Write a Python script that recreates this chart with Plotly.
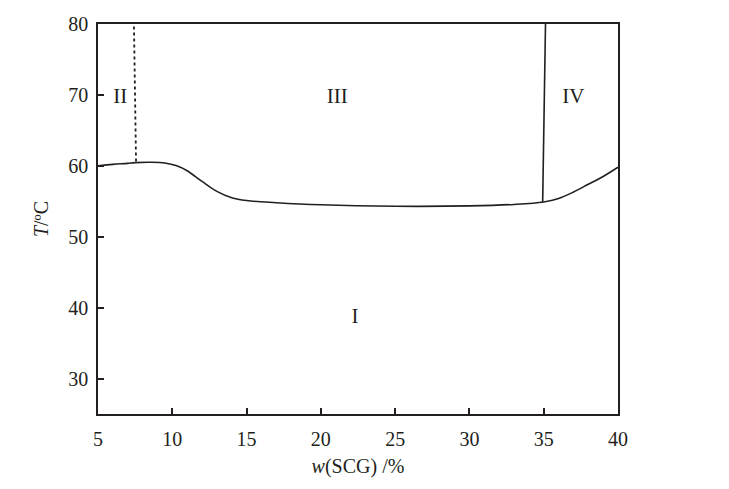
import plotly.graph_objects as go

# boundary curve I / (II, III, IV)
curve_x = [5, 6, 7, 7.5, 8.5, 9.5, 10.3, 11, 12, 13, 14, 15, 17, 20, 25, 30, 33, 35, 36, 37, 38, 39, 40]
curve_y = [60.0, 60.2, 60.35, 60.45, 60.5, 60.4, 60.0, 59.3, 57.8, 56.4, 55.5, 55.1, 54.8, 54.5, 54.3, 54.35, 54.55, 54.9, 55.4, 56.3, 57.4, 58.5, 59.8]

# II / III boundary (dotted)
b23_x = [7.56, 7.42]
b23_y = [60.6, 80]

# III / IV boundary (solid)
b34_x = [34.93, 35.12]
b34_y = [54.9, 80]

region_labels = ["II", "III", "IV", "I"]
label_x = [6.5, 21.1, 37.0, 22.3]
label_y = [69.6, 69.6, 69.6, 38.6]

x_ticks = [5, 10, 15, 20, 25, 30, 35, 40]
y_ticks = [30, 40, 50, 60, 70, 80]

font = "Liberation Serif"
col = "#231f20"

fig = go.Figure()
fig.add_trace(go.Scatter(x=curve_x, y=curve_y, mode="lines",
                         line=dict(color=col, width=1.6, shape="spline", smoothing=1.0)))
fig.add_trace(go.Scatter(x=b23_x, y=b23_y, mode="lines",
                         line=dict(color=col, width=1.8, dash="dot")))
fig.add_trace(go.Scatter(x=b34_x, y=b34_y, mode="lines",
                         line=dict(color=col, width=1.6)))
fig.add_trace(go.Scatter(x=label_x, y=label_y, mode="text", text=region_labels,
                         textfont=dict(family=font, size=21, color=col)))

axis_common = dict(showgrid=False, zeroline=False, showline=True, linecolor=col, linewidth=1.6,
                   mirror=True, ticks="inside", ticklen=6, tickwidth=1.6, tickcolor=col,
                   automargin=False,
                   tickfont=dict(family=font, size=20, color=col))

fig.update_xaxes(range=[5, 40], tickvals=x_ticks, ticklabelstandoff=6,
                 title=dict(text="<i>w</i>(SCG) /%", font=dict(family=font, size=20, color=col), standoff=10),
                 **axis_common)
fig.update_yaxes(range=[25, 80], tickvals=y_ticks, ticklabelstandoff=4,
                 title=dict(text="<i>T</i>/ºC", font=dict(family=font, size=20, color=col), standoff=14),
                 **axis_common)

fig.update_layout(width=729, height=489, showlegend=False,
                  margin=dict(l=90, r=119, t=16, b=83),
                  plot_bgcolor="white", paper_bgcolor="white")

fig.write_html("out.html")
